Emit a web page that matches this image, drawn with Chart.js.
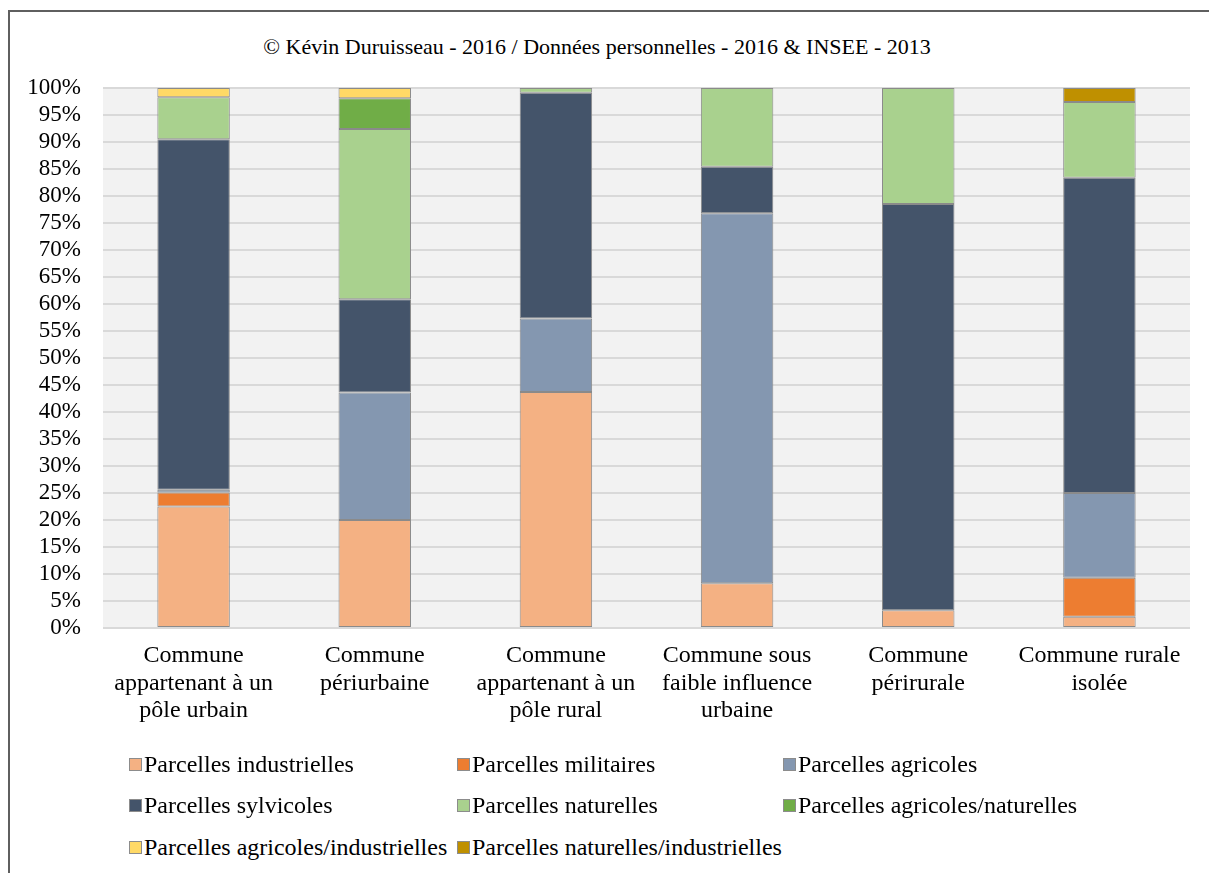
<!DOCTYPE html>
<html><head><meta charset="utf-8">
<script src="https://cdn.jsdelivr.net/npm/chart.js@4/dist/chart.umd.min.js"></script>
<style>
html,body{margin:0;padding:0;background:#fff;width:1209px;height:873px;overflow:hidden;font-family:"Liberation Serif","Times New Roman",serif;}
#frame{position:absolute;left:8px;top:10px;width:1300px;height:1000px;border-top:2px solid #5f5f5f;border-left:2px solid #5f5f5f;}
#title{position:absolute;left:0;width:1194px;top:34px;text-align:center;font-size:22px;color:#000;}
#wrap{position:absolute;left:0;top:0;width:1209px;height:800px;}
#legend{position:absolute;left:0;top:0;font-size:24px;color:#000;}
.li{position:absolute;white-space:nowrap;line-height:26px;}
.li span.b{display:inline-block;width:11px;height:11px;border:1px solid #8c8c8c;margin-right:2px;vertical-align:1px;}
</style></head>
<body>
<div id="frame"></div>
<div id="title">© Kévin Duruisseau - 2016 / Données personnelles - 2016 &amp; INSEE - 2013</div>
<div id="wrap"><canvas id="c" width="1209" height="800"></canvas></div>
<div id="legend"></div>
<script>
const categories = [
  ["Commune", "appartenant à un", "pôle urbain"],
  ["Commune", "périurbaine"],
  ["Commune", "appartenant à un", "pôle rural"],
  ["Commune sous", "faible influence", "urbaine"],
  ["Commune", "périrurale"],
  ["Commune rurale", "isolée"]
];
const seriesNames = [
  "Parcelles industrielles", "Parcelles militaires", "Parcelles agricoles",
  "Parcelles sylvicoles", "Parcelles naturelles", "Parcelles agricoles/naturelles",
  "Parcelles agricoles/industrielles", "Parcelles naturelles/industrielles"
];
const industrielles = [22.5, 20.0, 43.7, 8.3, 3.3, 2.1];
const militaires = [2.6, null, null, null, null, 7.2];
const agricoles = [0.5, 23.6, 13.6, 68.5, null, 15.7];
const sylvicoles = [64.9, 17.3, 41.8, 8.6, 75.2, 58.4];
const naturelles = [7.8, 31.5, 0.9, 14.6, 21.5, 14.0];
const agricolesNaturelles = [null, 5.7, null, null, null, null];
const agricolesIndustrielles = [1.7, 1.9, null, null, null, null];
const naturellesIndustrielles = [null, null, null, null, null, 2.6];
const yTicks = [0,5,10,15,20,25,30,35,40,45,50,55,60,65,70,75,80,85,90,95,100];

const seriesData = [industrielles, militaires, agricoles, sylvicoles, naturelles,
  agricolesNaturelles, agricolesIndustrielles, naturellesIndustrielles];
const colors = ["#F4B183","#ED7D31","#8497B0","#44546A","#A9D18E","#70AD47","#FFD966","#BF9000"];

const bgPlugin = {
  id: 'bg',
  beforeDraw(chart) {
    const {ctx, chartArea: a} = chart;
    ctx.save(); ctx.fillStyle = '#F2F2F2';
    ctx.fillRect(a.left, a.top, a.right - a.left, a.bottom - a.top);
    ctx.restore();
  }
};

const font = {family: '"Liberation Serif", "Times New Roman", serif', size: 24, lineHeight: 1.15};
const yfont = {family: '"Liberation Serif", "Times New Roman", serif', size: 23};
new Chart(document.getElementById('c'), {
  type: 'bar',
  data: {
    labels: categories,
    datasets: seriesNames.map((n, i) => ({
      label: n, data: seriesData[i], backgroundColor: colors[i],
      borderColor: '#8a8a8a', borderWidth: 1, borderSkipped: false,
      categoryPercentage: 1.0, barPercentage: 0.4
    }))
  },
  options: {
    responsive: false, animation: false, devicePixelRatio: 1,
    layout: {padding: {left: 0, right: 19, top: 88, bottom: 0}},
    plugins: {legend: {display: false}, tooltip: {enabled: false}},
    scales: {
      x: {
        stacked: true,
        grid: {display: false, drawTicks: false},
        border: {display: false},
        ticks: {font: font, color: '#000', padding: 14, maxRotation: 0, autoSkip: false},
        afterFit(s) { s.height = 172; }
      },
      y: {
        stacked: true, min: 0, max: 100,
        afterBuildTicks(s) { s.ticks = yTicks.map(v => ({value: v})); },
        grid: {color: '#D9D9D9', lineWidth: 2, drawTicks: false},
        border: {display: false},
        ticks: {font: yfont, color: '#000', padding: 22, autoSkip: false, callback: v => v + '%'},
        afterFit(s) { s.width = 103; }
      }
    }
  },
  plugins: [bgPlugin]
});

const legendPos = [
  [129, 751], [457, 751], [783, 751],
  [129, 792], [457, 792], [783, 792],
  [129, 834], [457, 834]
];
const lg = document.getElementById('legend');
seriesNames.forEach((n, i) => {
  const d = document.createElement('div');
  d.className = 'li';
  d.style.left = legendPos[i][0] + 'px';
  d.style.top = legendPos[i][1] + 'px';
  d.innerHTML = '<span class="b" style="background:' + colors[i] + '"></span>' + n;
  lg.appendChild(d);
});
</script>
</body></html>
